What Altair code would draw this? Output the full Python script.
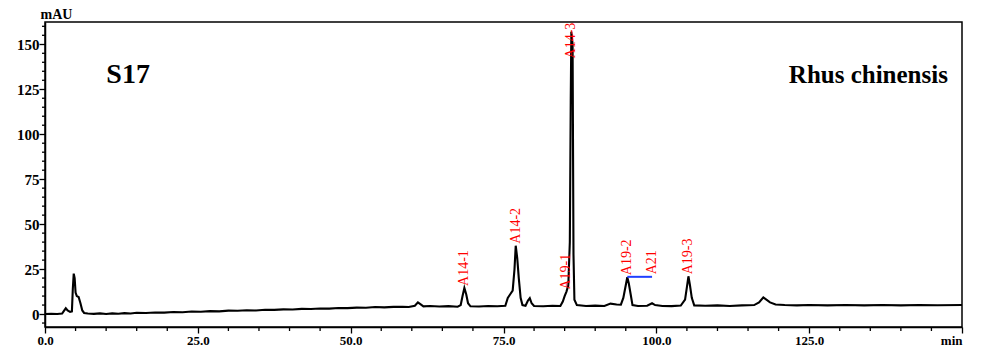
import altair as alt
import pandas as pd

# chromatogram trace (retention time in min, absorbance in mAU)
time = [0.0, 1.0, 2.0, 2.8, 3.1, 3.4, 3.7, 4.1, 4.4, 4.55, 4.7, 4.85, 5.0, 5.2, 5.5, 5.8, 6.1, 6.4,
        7.0, 8.0, 9.0, 10.0, 11.0, 12.0, 13.0, 14.0, 15.0, 16.5, 18.0, 19.5, 21.0, 22.5, 24.0, 25.5,
        27.0, 28.5, 30.0, 31.5, 33.0, 34.5, 36.0, 37.5, 39.0, 40.5, 42.0, 43.5, 45.0, 46.5, 48.0,
        49.5, 51.0, 52.5, 54.0, 55.5, 57.0, 58.5, 59.5, 60.5, 61.0, 61.4, 61.9, 63.0, 64.5, 66.0,
        67.5, 68.0, 68.3, 68.6, 68.9, 69.2, 69.6, 71.0, 72.5, 74.0, 75.3, 75.7, 76.1, 76.5, 76.8,
        77.0, 77.25, 77.5, 77.8, 78.1, 78.6, 79.0, 79.3, 79.6, 80.0, 81.5, 83.0, 84.3, 84.7, 85.0,
        85.3, 85.6, 85.85, 86.0, 86.1, 86.3, 86.45, 86.6, 87.0, 88.5, 90.0, 91.5, 92.5, 93.5, 94.2,
        94.6, 95.0, 95.25, 95.5, 95.8, 96.1, 97.0, 98.5, 99.3, 99.8, 101.0, 102.5, 104.0, 104.7,
        105.0, 105.25, 105.5, 105.8, 106.2, 108.0, 110.0, 112.0, 114.0, 116.0, 116.8, 117.5, 118.0,
        118.6, 119.5, 121.0, 123.0, 125.0, 128.0, 131.0, 134.0, 137.0, 140.0, 143.0, 146.0, 150.0]
mau = [0.0, 0.1, 0.0, 0.3, 1.8, 3.2, 2.0, 1.2, 1.5, 14.0, 22.5, 20.0, 12.0, 10.0, 9.5, 6.0, 2.0, 0.6,
       0.3, 0.1, 0.4, 0.0, 0.4, 0.2, 0.5, 0.3, 0.7, 0.6, 0.9, 0.8, 1.1, 1.0, 1.4, 1.3,
       1.6, 1.5, 1.9, 1.8, 2.1, 2.0, 2.4, 2.3, 2.6, 2.5, 2.9, 2.8, 3.1, 3.0, 3.4,
       3.3, 3.6, 3.5, 3.9, 3.7, 4.0, 4.1, 3.9, 4.6, 6.5, 5.5, 4.3, 4.5, 4.2, 4.4,
       4.1, 5.0, 10.0, 14.5, 11.0, 6.0, 4.3, 4.2, 4.5, 4.3, 4.6, 9.0, 11.0, 13.0, 25.0,
       38.0, 31.0, 20.0, 9.0, 5.0, 4.6, 7.5, 8.8, 6.0, 4.5, 4.3, 4.6, 4.5, 7.0, 10.0,
       12.5, 16.0, 40.0, 120.0, 157.0, 150.0, 33.0, 8.0, 5.0, 4.5, 4.7, 4.5, 5.8, 5.3, 5.2,
       9.0, 16.0, 20.5, 17.0, 11.0, 5.0, 4.5, 4.6, 6.0, 5.0, 4.5, 4.4, 4.7, 8.0,
       15.0, 21.0, 16.0, 9.0, 4.8, 4.6, 4.8, 4.5, 4.8, 5.0, 6.5, 9.2, 8.0,
       6.5, 5.3, 5.0, 4.8, 5.0, 4.8, 5.0, 4.8, 5.0, 4.8, 5.0, 4.9, 5.0]

# peak annotations
peak_names = ["A14-1", "A14-2", "A19-1", "A14-3", "A19-2", "A21", "A19-3"]
peak_time = [68.6, 77.0, 85.3, 86.05, 95.25, 99.3, 105.25]
peak_label_mau = [14.5, 38.0, 12.5, 141.0, 20.5, 21.0, 21.0]

# blue integration line
blue_start = [95.25]
blue_end = [99.3]
blue_level = [20.7]

# tick values: labelled majors, unlabelled minors
x_major = [0, 25, 50, 75, 100, 125, 150]
x_minor = [5, 10, 15, 20, 30, 35, 40, 45, 55, 60, 65, 70, 80, 85, 90, 95,
           105, 110, 115, 120, 130, 135, 140, 145]
y_major = [0, 25, 50, 75, 100, 125, 150]
y_minor = [-5, 5, 10, 15, 20, 30, 35, 40, 45, 55, 60, 65, 70, 80, 85, 90, 95,
           105, 110, 115, 120, 130, 135, 140, 145, 155, 160]

sample_label = ["S17"]
sample_t = [13.6]
sample_y = [132.8]
species_label = ["Rhus chinensis"]
species_t = [147.7]
species_y = [132.8]

FONT = "Liberation Serif"
W, H = 917, 305

trace = pd.DataFrame({"t": time, "v": mau, "i": range(len(time))})
peaks = pd.DataFrame({"name": peak_names, "t": peak_time, "v": peak_label_mau})
blue = pd.DataFrame({"t": blue_start, "t2": blue_end, "v": blue_level})
sample = pd.DataFrame({"txt": sample_label, "t": sample_t, "v": sample_y})
species = pd.DataFrame({"txt": species_label, "t": species_t, "v": species_y})
xminor_df = pd.DataFrame({"t": x_minor})
yminor_df = pd.DataFrame({"v": y_minor})

xscale = alt.Scale(domain=[0, 150], nice=False, zero=False)
yscale = alt.Scale(domain=[-7.2, 162.4], nice=False, zero=False)

axis_common = dict(domainColor="black", domainWidth=1.5, tickColor="black", tickWidth=1.3,
                   labelFont=FONT, labelFontWeight="bold", labelColor="black",
                   labelOverlap=False, grid=False)

x_axis = alt.Axis(
    values=x_major, orient="bottom", tickSize=6,
    labelPadding=1, labelFlush=False, title=None, labelFontSize=13,
    labelExpr="datum.value == 150 ? 'min' : format(datum.value, '.1f')",
    labelAlign={"condition": {"test": "datum.value == 150", "value": "right"}, "value": "center"},
    **axis_common,
)
y_axis = alt.Axis(
    values=y_major, orient="left", tickSize=6,
    labelPadding=0, labelFontSize=15, format="d",
    title="mAU", titleAngle=0, titleAlign="left", titleBaseline="alphabetic",
    titleX=-5, titleY=-3.5, titleFont=FONT, titleFontSize=14,
    titleFontWeight="bold", titleColor="black", **axis_common,
)

line = alt.Chart(trace).mark_line(color="black", strokeWidth=2.1, clip=True).encode(
    x=alt.X("t:Q", scale=xscale, axis=x_axis),
    y=alt.Y("v:Q", scale=yscale, axis=y_axis),
    order="i:Q",
)

xminor = alt.Chart(xminor_df).mark_rule(color="black", strokeWidth=1.3, clip=False).encode(
    x=alt.X("t:Q", scale=xscale), y=alt.value(H), y2=alt.value(H + 4)
)
yminor = alt.Chart(yminor_df).mark_rule(color="black", strokeWidth=1.3, clip=False).encode(
    y=alt.Y("v:Q", scale=yscale), x=alt.value(0), x2=alt.value(-3)
)

labels = alt.Chart(peaks).mark_text(
    color="#ff0000", font=FONT, fontSize=14, angle=270, align="left", baseline="middle",
    dx=2, clip=True,
).encode(
    x=alt.X("t:Q", scale=xscale),
    y=alt.Y("v:Q", scale=yscale),
    text="name:N",
)

blue_rule = alt.Chart(blue).mark_rule(color="#1f3fff", strokeWidth=2).encode(
    x=alt.X("t:Q", scale=xscale), x2="t2:Q", y=alt.Y("v:Q", scale=yscale)
)

sample_txt = alt.Chart(sample).mark_text(
    font=FONT, fontSize=28, fontWeight="bold", color="black", align="center", baseline="middle"
).encode(x=alt.X("t:Q", scale=xscale), y=alt.Y("v:Q", scale=yscale), text="txt:N")

species_txt = alt.Chart(species).mark_text(
    font=FONT, fontSize=25, fontWeight="bold", color="black", align="right", baseline="middle"
).encode(x=alt.X("t:Q", scale=xscale), y=alt.Y("v:Q", scale=yscale), text="txt:N")

chart = alt.layer(line, xminor, yminor, labels, blue_rule, sample_txt, species_txt).properties(
    width=W, height=H,
    autosize=alt.AutoSizeParams(type="none"),
    padding={"left": 37, "top": 14, "right": 17, "bottom": 20},
    background="white",
).configure_view(stroke="black", strokeWidth=1.5)

chart.save("out.html", embed_options={"renderer": "svg", "actions": False})
